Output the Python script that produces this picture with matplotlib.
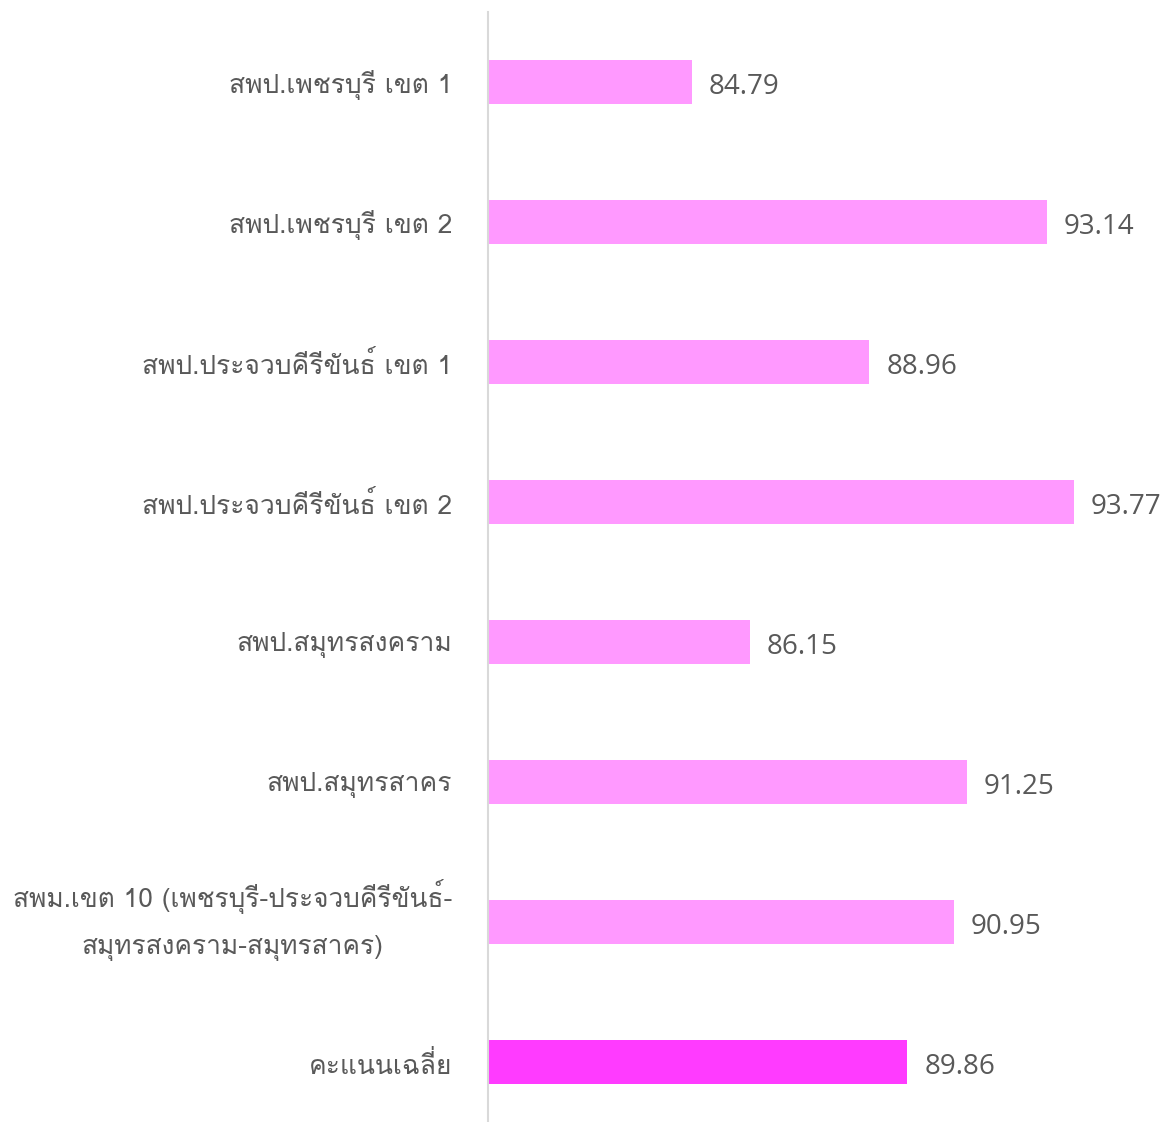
import matplotlib
matplotlib.use("Agg")
import matplotlib.pyplot as plt
from matplotlib import font_manager
from matplotlib.ft2font import FT2Font

# pick a font that actually has Thai glyphs
thai_font = None
for f in font_manager.fontManager.ttflist:
    try:
        if 0x0E2A in FT2Font(f.fname).get_charmap():
            thai_font = f.name
            if "Loma" in f.name or "Sarabun" in f.name or "Thai" in f.name:
                break
    except Exception:
        pass
fams = ([thai_font] if thai_font else []) + ["DejaVu Sans"]
plt.rcParams["font.family"] = fams

categories = [
    "สพป.เพชรบุรี เขต 1",
    "สพป.เพชรบุรี เขต 2",
    "สพป.ประจวบคีรีขันธ์ เขต 1",
    "สพป.ประจวบคีรีขันธ์ เขต 2",
    "สพป.สมุทรสงคราม",
    "สพป.สมุทรสาคร",
    "สพม.เขต 10 (เพชรบุรี-ประจวบคีรีขันธ์-\nสมุทรสงคราม-สมุทรสาคร)",
    "คะแนนเฉลี่ย",
]
scores = [84.79, 93.14, 88.96, 93.77, 86.15, 91.25, 90.95, 89.86]
colors = ["#FF99FF"] * 7 + ["#FF3BFF"]

W, H = 1163, 1122
fig = plt.figure(figsize=(W / 100, H / 100), dpi=100)
ax = fig.add_axes([488 / W, -10 / H, 1 - 488 / W, 1120 / H])

ypos = list(range(len(categories)))
ax.barh(ypos, [s - 80 for s in scores], left=80, height=0.31, color=colors)
ax.set_ylim(len(categories) - 0.5, -0.5)
ax.set_xlim(80, 80 + (W - 488) / 42.54)

txt = "#595959"
for y, s in zip(ypos, scores):
    ax.text(s + 0.4, y + 0.035, f"{s:.2f}", va="center", ha="left", fontsize=20,
            color=txt, family=["Open Sans", "DejaVu Sans"])

# category labels drawn as text, right edge ~36px left of the axis line
lx = (452 - 488) / (W - 488)
for y, lab in zip(ypos, categories):
    if "\n" in lab:
        ax.text(lx, y - 0.015, lab, transform=ax.get_yaxis_transform(), ha="right",
                va="center", multialignment="center", linespacing=2.1,
                fontsize=18.9, color=txt)
    else:
        ax.text(lx, y, lab, transform=ax.get_yaxis_transform(), ha="right",
                va="center_baseline", fontsize=19, color=txt)

ax.set_yticks([])
ax.set_xticks([])
for sp in ["top", "right", "bottom"]:
    ax.spines[sp].set_visible(False)
ax.spines["left"].set_color("#D9D9D9")
ax.spines["left"].set_linewidth(1.5)
ax.patch.set_alpha(0)

fig.savefig("out.png", dpi=100)
